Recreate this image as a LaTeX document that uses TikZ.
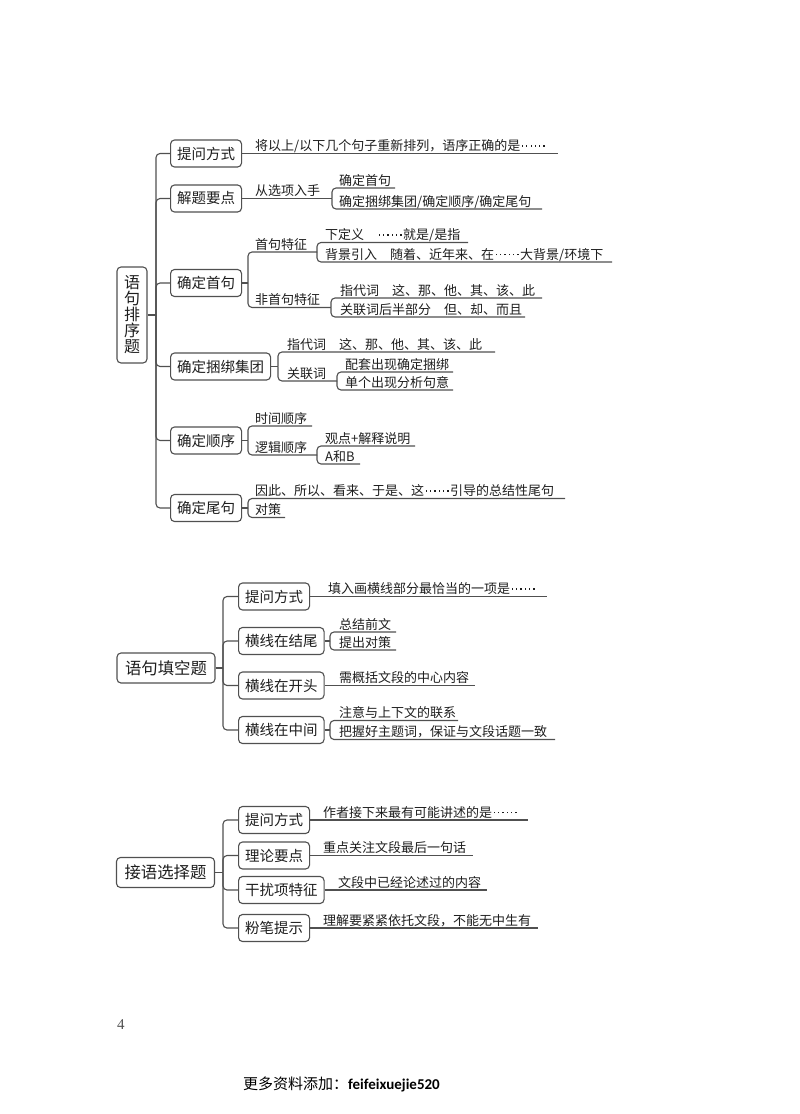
\documentclass[tikz,border=0pt]{standalone}
\usepackage{fontspec}
\setmainfont{Noto Sans CJK SC}
\newfontfamily\numfont{Liberation Serif}
\newfontfamily\footlat{Carlito}
\definecolor{lc}{HTML}{505050}
\definecolor{tc}{HTML}{1E1E1E}
\newcommand{\onedot}{\rule[.30em]{1.25pt}{1.25pt}}
\newcommand{\ellip}{\makebox[2em][s]{\hspace{0.12em}\onedot\hfil\onedot\hfil\onedot\hfil\onedot\hfil\onedot\hfil\onedot\hspace{0.12em}}}
\begin{document}
\begin{tikzpicture}[x=1pt,y=-1pt,
  ln/.style={draw=lc,line width=1.1pt},
  br/.style={draw=lc,line width=1.1pt,rounded corners=4pt},
  topicbox/.style={draw=lc,line width=1.1pt,rounded corners=4pt,font=\fontsize{14.5}{17}\selectfont,
    inner xsep=6.5pt,inner ysep=0pt,minimum height=27pt,anchor=west,text=tc},
  rootbox/.style={draw=lc,line width=1.1pt,rounded corners=4pt,font=\fontsize{16.4}{19}\selectfont,
    inner xsep=8pt,inner ysep=0pt,minimum height=30pt,text=tc},
  lbl/.style={font=\fontsize{13}{15}\selectfont,inner sep=0pt,anchor=base west,text=tc}]
\fill[white] (0,0) rectangle (800,1114);
\useasboundingbox (0,0) rectangle (800,1114);

% ================= Section 1 =================
\node[draw=lc,line width=1.1pt,rounded corners=4pt,minimum width=30pt,minimum height=96pt,inner sep=0pt,
  text=tc,align=center,font=\fontsize{16}{16}\selectfont] (r1) at (132,315) {语\\句\\排\\序\\题};
\coordinate (tr1) at (156,315);
\draw[ln] (r1.east) -- (tr1);

\node[topicbox] (b11) at (170,153.5) {提问方式};
\node[topicbox] (b12) at (170,198.5) {解题要点};
\node[topicbox] (b13) at (170,283) {确定首句};
\node[topicbox] (b14) at (170,366.5) {确定捆绑集团};
\node[topicbox] (b15) at (170,440.5) {确定顺序};
\node[topicbox] (b16) at (170,508) {确定尾句};
\foreach \b in {b11,b12,b13,b14,b15,b16} \draw[br] (tr1) |- (\b.west);

% b11
\coordinate (e11) at (558,153.5);
\node[lbl] (t11) at (255,150.5) {将以上/以下几个句子重新排列，语序正确的是\ellip};
\draw[ln] (b11.east) -- (e11);

% b12
\coordinate (k12) at (332,198.5);
\node[lbl] (t12) at (255,195.5) {从选项入手};
\draw[ln] (b12.east) -- (k12);
\coordinate (e121) at (395,188);
\coordinate (e122) at (542,209);
\node[lbl] (t121) at (339,185) {确定首句};
\node[lbl] (t122) at (339,206) {确定捆绑集团/确定顺序/确定尾句};
\draw[br] (k12) |- (e121);
\draw[br] (k12) |- (e122);

% b13
\coordinate (k13) at (248,283);
\draw[ln] (b13.east) -- (k13);
\coordinate (k131) at (317,252);
\coordinate (k132) at (331,307.5);
\node[lbl] (t131) at (255,249) {首句特征};
\node[lbl] (t132) at (255,304.5) {非首句特征};
\draw[br] (k13) |- (k131);
\draw[br] (k13) |- (k132);
\coordinate (e1311) at (468,242.5);
\coordinate (e1312) at (612,262);
\node[lbl] (t1311) at (325,239.5) {下定义\hspace{1em}\ellip 就是/是指};
\node[lbl] (t1312) at (325,259) {背景引入\hspace{1em}随着、近年来、在\ellip 大背景/环境下};
\draw[br] (k131) |- (e1311);
\draw[br] (k131) |- (e1312);
\coordinate (e1321) at (542,298);
\coordinate (e1322) at (525,317);
\node[lbl] (t1321) at (340,295) {指代词\hspace{1em}这、那、他、其、该、此};
\node[lbl] (t1322) at (340,314) {关联词后半部分\hspace{1em}但、却、而且};
\draw[br] (k132) |- (e1321);
\draw[br] (k132) |- (e1322);

% b14
\coordinate (k14) at (278,366.5);
\draw[ln] (b14.east) -- (k14);
\coordinate (e141) at (495,352);
\coordinate (k142) at (337,381);
\node[lbl] (t141) at (287,349) {指代词\hspace{1em}这、那、他、其、该、此};
\node[lbl] (t142) at (287,378) {关联词};
\draw[br] (k14) |- (e141);
\draw[br] (k14) |- (k142);
\coordinate (e1421) at (453,372);
\coordinate (e1422) at (453,390);
\node[lbl] (t1421) at (345,369) {配套出现确定捆绑};
\node[lbl] (t1422) at (345,387) {单个出现分析句意};
\draw[br] (k142) |- (e1421);
\draw[br] (k142) |- (e1422);

% b15
\coordinate (k15) at (248,440.5);
\draw[ln] (b15.east) -- (k15);
\coordinate (e151) at (312,426);
\coordinate (k152) at (317,455);
\node[lbl] (t151) at (255,423) {时间顺序};
\node[lbl] (t152) at (255,452) {逻辑顺序};
\draw[br] (k15) |- (e151);
\draw[br] (k15) |- (k152);
\coordinate (e1521) at (415,446);
\coordinate (e1522) at (360,464);
\node[lbl] (t1521) at (325,443) {观点+解释说明};
\node[lbl] (t1522) at (325,461) {A和B};
\draw[br] (k152) |- (e1521);
\draw[br] (k152) |- (e1522);

% b16
\coordinate (k16) at (248,508);
\draw[ln] (b16.east) -- (k16);
\coordinate (e161) at (565,498.5);
\coordinate (e162) at (285,517.5);
\node[lbl] (t161) at (255,495.5) {因此、所以、看来、于是、这\ellip 引导的总结性尾句};
\node[lbl] (t162) at (255,514.5) {对策};
\draw[br] (k16) |- (e161);
\draw[br] (k16) |- (e162);

% ================= Section 2 =================
\node[rootbox] (r2) at (166,668) {语句填空题};
\coordinate (tr2) at (223,668);
\draw[ln] (r2.east) -- (tr2);
\node[topicbox] (b21) at (238,596.5) {提问方式};
\node[topicbox] (b22) at (238,641) {横线在结尾};
\node[topicbox] (b23) at (238,685.5) {横线在开头};
\node[topicbox] (b24) at (238,730) {横线在中间};
\foreach \b in {b21,b22,b23,b24} \draw[br] (tr2) |- (\b.west);

\coordinate (e21) at (547,596.5);
\node[lbl] (t21) at (328,593.5) {填入画横线部分最恰当的一项是\ellip};
\draw[ln] (b21.east) -- (e21);

\coordinate (k22) at (330,641);
\draw[ln] (b22.east) -- (k22);
\coordinate (e221) at (396,632);
\coordinate (e222) at (396,650);
\node[lbl] (t221) at (339,629) {总结前文};
\node[lbl] (t222) at (339,647) {提出对策};
\draw[br] (k22) |- (e221);
\draw[br] (k22) |- (e222);

\coordinate (e23) at (475,685.5);
\node[lbl] (t23) at (339,682.5) {需概括文段的中心内容};
\draw[ln] (b23.east) -- (e23);

\coordinate (k24) at (330,730);
\draw[ln] (b24.east) -- (k24);
\coordinate (e241) at (458,720.5);
\coordinate (e242) at (555,739.5);
\node[lbl] (t241) at (339,717.5) {注意与上下文的联系};
\node[lbl] (t242) at (339,736.5) {把握好主题词，保证与文段话题一致};
\draw[br] (k24) |- (e241);
\draw[br] (k24) |- (e242);

% ================= Section 3 =================
\node[rootbox] (r3) at (165.5,872.5) {接语选择题};
\coordinate (tr3) at (223,872.5);
\draw[ln] (r3.east) -- (tr3);
\node[topicbox] (b31) at (238,820) {提问方式};
\node[topicbox] (b32) at (238,855.5) {理论要点};
\node[topicbox] (b33) at (238,890) {干扰项特征};
\node[topicbox] (b34) at (238,928) {粉笔提示};
\foreach \b in {b31,b32,b33,b34} \draw[br] (tr3) |- (\b.west);

\coordinate (e31) at (528,820);
\node[lbl] (t31) at (323,817) {作者接下来最有可能讲述的是\ellip};
\draw[ln] (b31.east) -- (e31);
\coordinate (e32) at (473,855.5);
\node[lbl] (t32) at (323,852.5) {重点关注文段最后一句话};
\draw[ln] (b32.east) -- (e32);
\coordinate (e33) at (487,890);
\node[lbl] (t33) at (338,887) {文段中已经论述过的内容};
\draw[ln] (b33.east) -- (e33);
\coordinate (e34) at (538,928);
\node[lbl] (t34) at (323,925) {理解要紧紧依托文段，不能无中生有};
\draw[ln] (b34.east) -- (e34);

% ================= Footer =================
\node[anchor=base west,inner sep=0pt,text=lc,font=\numfont\fontsize{15}{17}\selectfont] (pg) at (117,1029) {4};
\node[anchor=base west,inner sep=0pt,text=black,font=\fontsize{15}{17}\selectfont] (ft) at (243,1089)
  {更多资料添加：{\footlat\bfseries feifeixuejie520}};
\end{tikzpicture}
\end{document}
